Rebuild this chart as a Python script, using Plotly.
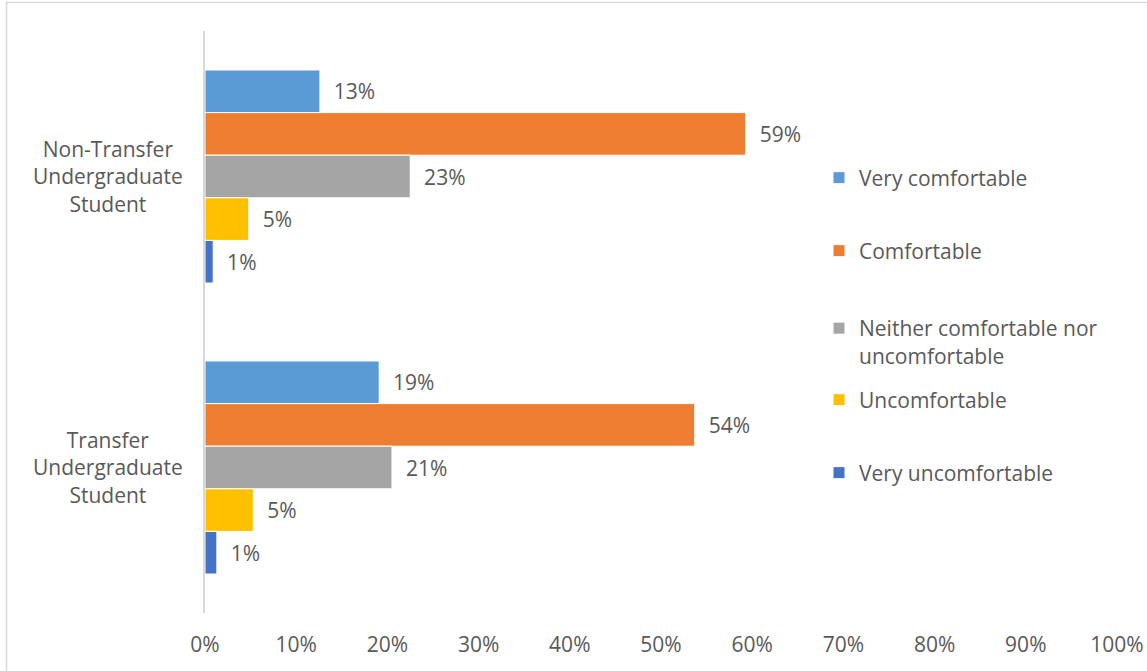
import plotly.graph_objects as go

# Survey responses: share of students by comfort level
groups = ["Non-Transfer Undergraduate Student", "Transfer Undergraduate Student"]
group_labels = ["Non-Transfer<br>Undergraduate<br>Student", "Transfer<br>Undergraduate<br>Student"]

legend_names = [
    "Very comfortable",
    "Comfortable",
    "Neither comfortable nor<br>uncomfortable",
    "Uncomfortable",
    "Very uncomfortable",
]

very_comfortable = [0.126, 0.191]
comfortable = [0.593, 0.537]
neither = [0.225, 0.205]
uncomfortable = [0.048, 0.053]
very_uncomfortable = [0.009, 0.013]

series = [very_comfortable, comfortable, neither, uncomfortable, very_uncomfortable]
colors = ["#5B9BD5", "#ED7D31", "#A5A5A5", "#FFC000", "#4472C4"]

x_ticks = [i / 10 for i in range(11)]

FONT = "Open Sans"
FS = 21
TEXT = "#595959"
GRID = "#D9D9D9"

W, H = 1147, 671
ML, MR, MT, MB = 205, 30, 31, 58
plot_w = W - ML - MR
plot_h = H - MT - MB

# each legend entry gets its own legend box so entries can be spaced freely
legend_y_px = [178, 251, 323, 400, 473]

fig = go.Figure()
for i, (name, vals, col) in enumerate(zip(legend_names, series, colors)):
    fig.add_trace(go.Bar(
        y=groups,
        x=vals,
        orientation="h",
        name=name,
        marker=dict(color=col, line=dict(color="white", width=1)),
        text=vals,
        texttemplate="\u00a0\u00a0%{x:.0%}",
        textposition="outside",
        constraintext="none",
        cliponaxis=False,
        textfont=dict(family=FONT, size=FS, color=TEXT),
        legend="legend" if i == 0 else f"legend{i + 1}",
        hoverinfo="skip",
    ))

layout_legends = {}
for i, ypx in enumerate(legend_y_px):
    key = "legend" if i == 0 else f"legend{i + 1}"
    two_line = "<br>" in legend_names[i]
    layout_legends[key] = dict(
        x=(819 - ML) / plot_w,
        xanchor="left",
        y=(H - MB - ypx + (15 if two_line else 0)) / plot_h,
        yanchor="top" if two_line else "middle",
        valign="top",
        bgcolor="rgba(0,0,0,0)",
        borderwidth=0,
        font=dict(family=FONT, size=FS, color=TEXT),
    )

# category labels, centred to the left of the axis
annotations = []
for g, lab in zip(groups, group_labels):
    annotations.append(dict(
        x=(108 - ML) / plot_w, xref="paper",
        y=g, yref="y",
        text=lab, showarrow=False,
        xanchor="center", yanchor="middle", align="center",
        font=dict(family=FONT, size=FS, color=TEXT),
    ))

fig.update_layout(
    width=W, height=H,
    margin=dict(l=ML, r=MR, t=MT, b=MB, pad=0),
    paper_bgcolor="white",
    plot_bgcolor="white",
    barmode="group",
    bargap=0.268,
    bargroupgap=0,
    showlegend=True,
    annotations=annotations,
    font=dict(family=FONT, size=FS, color=TEXT),
    shapes=[dict(
        type="rect", xref="paper", yref="paper",
        x0=(6.5 - ML) / plot_w, x1=1.2,
        y0=-0.3, y1=(H - MB - 2.5) / plot_h,
        line=dict(color=GRID, width=1.5),
        layer="below",
    )],
    xaxis=dict(
        range=[0, 1],
        tickvals=x_ticks,
        tickformat=".0%",
        showgrid=False,
        zeroline=False,
        showline=False,
        ticks="",
        automargin=False,
        ticklabelstandoff=17,
        tickfont=dict(family=FONT, size=FS, color=TEXT),
        fixedrange=True,
    ),
    yaxis=dict(
        categoryorder="array",
        categoryarray=groups,
        autorange="reversed",
        showticklabels=False,
        showgrid=False,
        zeroline=False,
        showline=True,
        linecolor=GRID,
        linewidth=1.5,
        ticks="",
        automargin=False,
        fixedrange=True,
    ),
    **layout_legends,
)

fig.write_html("out.html", config={"displayModeBar": False})
